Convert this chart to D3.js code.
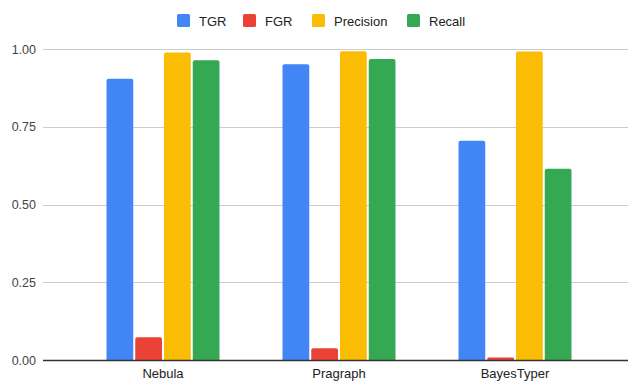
<!DOCTYPE html>
<html>
<head>
<meta charset="utf-8">
<script src="https://cdn.jsdelivr.net/npm/d3@7/dist/d3.min.js"></script>
<style>
  html, body { margin: 0; padding: 0; background: #fff; }
  svg { display: block; font-family: "Liberation Sans", Arial, sans-serif; }
</style>
</head>
<body>
<svg id="chart" width="630" height="381"></svg>
<script>
// Tools compared on each metric
const categories = ["Nebula", "Pragraph", "BayesTyper"];
const seriesNames = ["TGR", "FGR", "Precision", "Recall"];
const seriesColors = ["#4285F4", "#EA4335", "#FBBC04", "#34A853"];
const tgr = [0.904, 0.951, 0.705];
const fgr = [0.073, 0.038, 0.008];
const precision = [0.989, 0.993, 0.992];
const recall = [0.964, 0.968, 0.615];
const yTicks = [0, 0.25, 0.5, 0.75, 1.0];

const values = [tgr, fgr, precision, recall];

const svg = d3.select("#chart");
const plot = { left: 43, right: 628, top: 49, bottom: 360 };

const y = d3.scaleLinear().domain([0, 1]).range([plot.bottom, plot.top]);
const x0 = d3.scaleBand().domain(categories).range([75, 603])
  .paddingInner(0.358).paddingOuter(0.179);
const x1 = d3.scaleBand().domain(seriesNames).range([0, x0.bandwidth()]).paddingInner(0.07);

// Horizontal gridlines
svg.append("g")
  .selectAll("line")
  .data(yTicks.filter(t => t > 0))
  .join("line")
  .attr("x1", plot.left).attr("x2", plot.right)
  .attr("y1", d => Math.round(y(d)) + 0.5).attr("y2", d => Math.round(y(d)) + 0.5)
  .attr("stroke", "#cccccc").attr("stroke-width", 1);

// Y axis labels
const yAxis = d3.axisLeft(y).tickValues(yTicks).tickFormat(d3.format(".2f")).tickSize(0).tickPadding(7);
const gy = svg.append("g").attr("transform", `translate(${plot.left},0)`).call(yAxis);
gy.select(".domain").remove();
gy.selectAll("text").attr("fill", "#444").attr("font-size", 12.5)
  .attr("font-family", "Liberation Sans, Arial, sans-serif");

// Bars with slightly rounded tops
function barPath(x, y0, w, yTop, r) {
  const h = y0 - yTop;
  r = Math.min(r, h / 2, w / 2);
  return `M${x},${y0}V${yTop + r}Q${x},${yTop} ${x + r},${yTop}H${x + w - r}Q${x + w},${yTop} ${x + w},${yTop + r}V${y0}Z`;
}

const groups = svg.append("g").selectAll("g")
  .data(categories)
  .join("g")
  .attr("transform", d => `translate(${x0(d)},0)`);

groups.selectAll("path")
  .data((c, ci) => seriesNames.map((s, si) => ({ s, si, v: values[si][ci] })))
  .join("path")
  .attr("d", d => barPath(x1(d.s), y(0), x1.bandwidth(), y(d.v), 2))
  .attr("fill", d => seriesColors[d.si]);

// Baseline
svg.append("line")
  .attr("x1", plot.left).attr("x2", plot.right)
  .attr("y1", y(0) + 0.5).attr("y2", y(0) + 0.5)
  .attr("stroke", "#333333").attr("stroke-width", 1.5);

// X axis labels
const xAxis = d3.axisBottom(x0).tickSize(0).tickPadding(9);
const gx = svg.append("g").attr("transform", `translate(0,${plot.bottom})`).call(xAxis);
gx.select(".domain").remove();
gx.selectAll("text").attr("fill", "#222").attr("font-size", 13)
  .attr("font-family", "Liberation Sans, Arial, sans-serif");

// Legend
const legendX = [177, 243, 312, 407];
const legend = svg.append("g").selectAll("g")
  .data(seriesNames)
  .join("g")
  .attr("transform", (d, i) => `translate(${legendX[i]},14)`);
legend.append("rect")
  .attr("width", 13).attr("height", 13).attr("rx", 1.5)
  .attr("fill", (d, i) => seriesColors[i]);
legend.append("text")
  .attr("x", 22).attr("y", 11.5)
  .attr("font-size", 13).attr("fill", "#222")
  .text(d => d);
</script>
</body>
</html>
